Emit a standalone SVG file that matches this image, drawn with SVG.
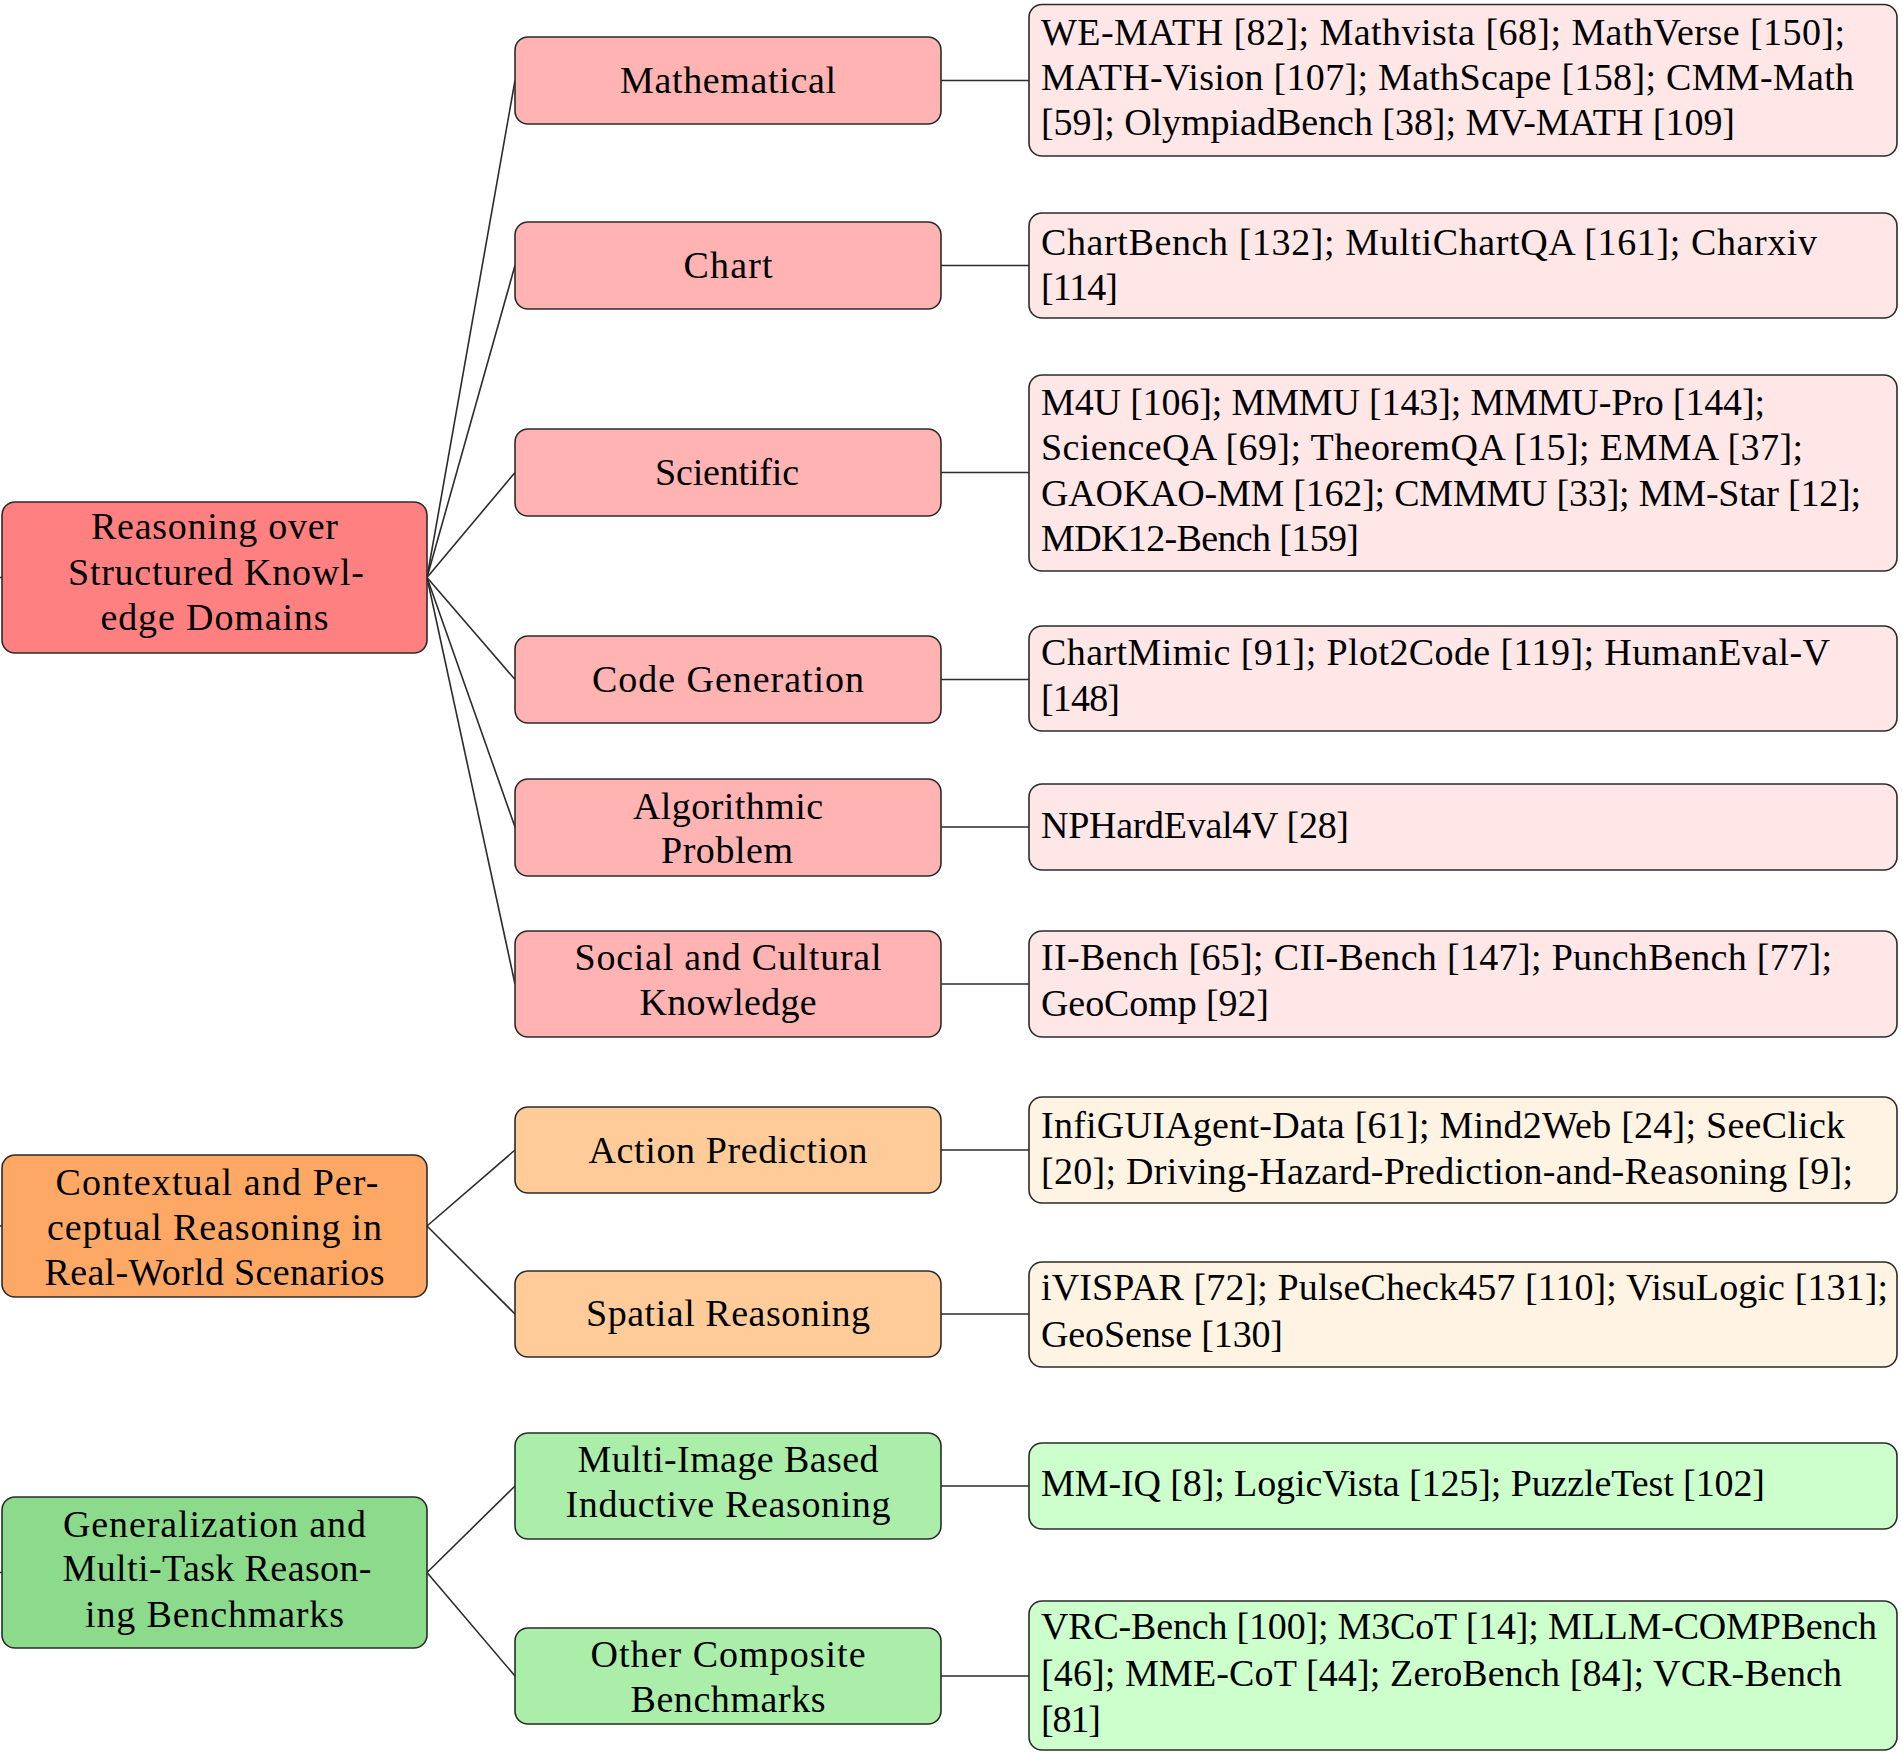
<svg xmlns="http://www.w3.org/2000/svg" width="1902" height="1754" viewBox="0 0 1902 1754">
<style>
  .box { stroke: #2b2b2b; stroke-width: 1.6; }
  .r1 { fill: #FF8080; } .r2 { fill: #FFB3B3; } .r3 { fill: #FFE7E7; }
  .o1 { fill: #FDA865; } .o2 { fill: #FFCC99; } .o3 { fill: #FFF3E3; }
  .g1 { fill: #8CDB8C; } .g2 { fill: #AAEEAA; } .g3 { fill: #CCFFCC; }
  text { font-family: "Liberation Serif", "DejaVu Serif", serif; font-size: 38px; fill: #000; }
  .c { text-anchor: middle; }
  .l { text-anchor: start; }
  #connectors line { stroke: #2b2b2b; stroke-width: 1.6; fill: none; }
</style>
<rect width="1902" height="1754" fill="#ffffff"/>
<g id="connectors">
  <line x1="0" y1="577.5" x2="2" y2="577.5"/>
  <line x1="0" y1="1226" x2="2" y2="1226"/>
  <line x1="0" y1="1572.5" x2="2" y2="1572.5"/>
  <line x1="427" y1="577.5" x2="515" y2="80.5"/>
  <line x1="427" y1="577.5" x2="515" y2="265.5"/>
  <line x1="427" y1="577.5" x2="515" y2="472.5"/>
  <line x1="427" y1="577.5" x2="515" y2="679.5"/>
  <line x1="427" y1="577.5" x2="515" y2="827"/>
  <line x1="427" y1="577.5" x2="515" y2="984"/>
  <line x1="427" y1="1226" x2="515" y2="1150"/>
  <line x1="427" y1="1226" x2="515" y2="1314"/>
  <line x1="427" y1="1572.5" x2="515" y2="1486"/>
  <line x1="427" y1="1572.5" x2="515" y2="1676"/>
  <line x1="941" y1="80.5" x2="1029" y2="80.5"/>
  <line x1="941" y1="265.5" x2="1029" y2="265.5"/>
  <line x1="941" y1="472.5" x2="1029" y2="472.5"/>
  <line x1="941" y1="679.5" x2="1029" y2="679.5"/>
  <line x1="941" y1="827" x2="1029" y2="827"/>
  <line x1="941" y1="984" x2="1029" y2="984"/>
  <line x1="941" y1="1150" x2="1029" y2="1150"/>
  <line x1="941" y1="1314" x2="1029" y2="1314"/>
  <line x1="941" y1="1486" x2="1029" y2="1486"/>
  <line x1="941" y1="1676" x2="1029" y2="1676"/>
</g>

<g id="root-structured">
  <rect class="box r1" x="2" y="502" width="425" height="151" rx="13"/>
  <text class="c" x="214.5" y="539" textLength="247">Reasoning over</text>
  <text class="c" x="216" y="585" textLength="296">Structured Knowl-</text>
  <text class="c" x="214.5" y="630" textLength="228">edge Domains</text>
</g>
<g id="root-contextual">
  <rect class="box o1" x="2" y="1155" width="425" height="142" rx="13"/>
  <text class="c" x="217" y="1195" textLength="323">Contextual and Per-</text>
  <text class="c" x="214.5" y="1240" textLength="335">ceptual Reasoning in</text>
  <text class="c" x="214.5" y="1285" textLength="340">Real-World Scenarios</text>
</g>
<g id="root-generalization">
  <rect class="box g1" x="2" y="1497" width="425" height="151" rx="13"/>
  <text class="c" x="214.5" y="1537" textLength="303">Generalization and</text>
  <text class="c" x="217" y="1581" textLength="309">Multi-Task Reason-</text>
  <text class="c" x="214.5" y="1627" textLength="259">ing Benchmarks</text>
</g>

<g id="mid-mathematical">
  <rect class="box r2" x="515" y="37" width="426" height="87" rx="13"/>
  <text class="c" x="728" y="93" textLength="216">Mathematical</text>
</g>
<g id="mid-chart">
  <rect class="box r2" x="515" y="222" width="426" height="87" rx="13"/>
  <text class="c" x="728" y="278" textLength="89">Chart</text>
</g>
<g id="mid-scientific">
  <rect class="box r2" x="515" y="429" width="426" height="87" rx="13"/>
  <text class="c" x="727" y="485" textLength="144">Scientific</text>
</g>
<g id="mid-code">
  <rect class="box r2" x="515" y="636" width="426" height="87" rx="13"/>
  <text class="c" x="728" y="692" textLength="272">Code Generation</text>
</g>
<g id="mid-algorithmic">
  <rect class="box r2" x="515" y="779" width="426" height="97" rx="13"/>
  <text class="c" x="728" y="819" textLength="190">Algorithmic</text>
  <text class="c" x="727" y="863" textLength="132">Problem</text>
</g>
<g id="mid-social">
  <rect class="box r2" x="515" y="931" width="426" height="106" rx="13"/>
  <text class="c" x="728" y="970" textLength="307">Social and Cultural</text>
  <text class="c" x="728" y="1015" textLength="177">Knowledge</text>
</g>
<g id="mid-action">
  <rect class="box o2" x="515" y="1107" width="426" height="86" rx="13"/>
  <text class="c" x="728" y="1163" textLength="279">Action Prediction</text>
</g>
<g id="mid-spatial">
  <rect class="box o2" x="515" y="1271" width="426" height="86" rx="13"/>
  <text class="c" x="728" y="1326" textLength="284">Spatial Reasoning</text>
</g>
<g id="mid-multiimage">
  <rect class="box g2" x="515" y="1433" width="426" height="106" rx="13"/>
  <text class="c" x="728" y="1472" textLength="301">Multi-Image Based</text>
  <text class="c" x="728" y="1517" textLength="325">Inductive Reasoning</text>
</g>
<g id="mid-other">
  <rect class="box g2" x="515" y="1628" width="426" height="96" rx="13"/>
  <text class="c" x="728" y="1667" textLength="275">Other Composite</text>
  <text class="c" x="728" y="1712" textLength="195">Benchmarks</text>
</g>

<g id="leaf-mathematical">
  <rect class="box r3" x="1029" y="4.5" width="868" height="151.5" rx="13"/>
  <text class="l" x="1041" y="45" textLength="804">WE-MATH [82]; Mathvista [68]; MathVerse [150];</text>
  <text class="l" x="1041" y="90" textLength="813">MATH-Vision [107]; MathScape [158]; CMM-Math</text>
  <text class="l" x="1041" y="135" textLength="694">[59]; OlympiadBench [38]; MV-MATH [109]</text>
</g>
<g id="leaf-chart">
  <rect class="box r3" x="1029" y="213" width="868" height="105" rx="13"/>
  <text class="l" x="1041" y="254.5" textLength="776">ChartBench [132]; MultiChartQA [161]; Charxiv</text>
  <text class="l" x="1041" y="300" textLength="77">[114]</text>
</g>
<g id="leaf-scientific">
  <rect class="box r3" x="1029" y="375" width="868" height="196" rx="13"/>
  <text class="l" x="1041" y="415" textLength="724">M4U [106]; MMMU [143]; MMMU-Pro [144];</text>
  <text class="l" x="1041" y="460" textLength="762">ScienceQA [69]; TheoremQA [15]; EMMA [37];</text>
  <text class="l" x="1041" y="506" textLength="820">GAOKAO-MM [162]; CMMMU [33]; MM-Star [12];</text>
  <text class="l" x="1041" y="551" textLength="318">MDK12-Bench [159]</text>
</g>
<g id="leaf-code">
  <rect class="box r3" x="1029" y="626" width="868" height="105" rx="13"/>
  <text class="l" x="1041" y="665" textLength="789">ChartMimic [91]; Plot2Code [119]; HumanEval-V</text>
  <text class="l" x="1041" y="711" textLength="79">[148]</text>
</g>
<g id="leaf-algorithmic">
  <rect class="box r3" x="1029" y="784" width="868" height="86" rx="13"/>
  <text class="l" x="1041" y="838" textLength="308">NPHardEval4V [28]</text>
</g>
<g id="leaf-social">
  <rect class="box r3" x="1029" y="931" width="868" height="106" rx="13"/>
  <text class="l" x="1041" y="970" textLength="791">II-Bench [65]; CII-Bench [147]; PunchBench [77];</text>
  <text class="l" x="1041" y="1016" textLength="228">GeoComp [92]</text>
</g>
<g id="leaf-action">
  <rect class="box o3" x="1029" y="1097" width="868" height="106" rx="13"/>
  <text class="l" x="1041" y="1138" textLength="804">InfiGUIAgent-Data [61]; Mind2Web [24]; SeeClick</text>
  <text class="l" x="1041" y="1184" textLength="812">[20]; Driving-Hazard-Prediction-and-Reasoning [9];</text>
</g>
<g id="leaf-spatial">
  <rect class="box o3" x="1029" y="1262" width="868" height="105" rx="13"/>
  <text class="l" x="1041" y="1300" textLength="847">iVISPAR [72]; PulseCheck457 [110]; VisuLogic [131];</text>
  <text class="l" x="1041" y="1347" textLength="242">GeoSense [130]</text>
</g>
<g id="leaf-multiimage">
  <rect class="box g3" x="1029" y="1443" width="868" height="86" rx="13"/>
  <text class="l" x="1041" y="1496" textLength="724">MM-IQ [8]; LogicVista [125]; PuzzleTest [102]</text>
</g>
<g id="leaf-other">
  <rect class="box g3" x="1029" y="1601" width="868" height="149" rx="13"/>
  <text class="l" x="1041" y="1639" textLength="836">VRC-Bench [100]; M3CoT [14]; MLLM-COMPBench</text>
  <text class="l" x="1041" y="1686" textLength="801">[46]; MME-CoT [44]; ZeroBench [84]; VCR-Bench</text>
  <text class="l" x="1041" y="1732" textLength="60">[81]</text>
</g>
</svg>
